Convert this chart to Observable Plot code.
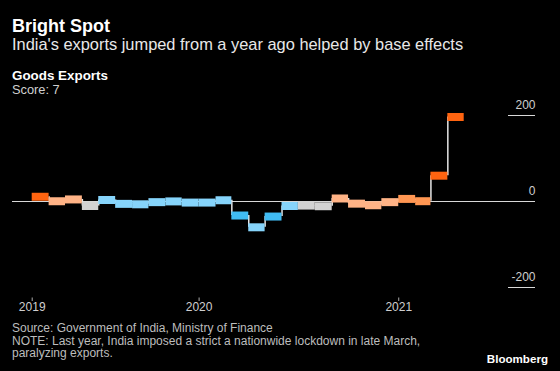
<!DOCTYPE html>
<html>
<head>
<meta charset="utf-8">
<script src="https://cdn.jsdelivr.net/npm/d3@7"></script>
<script src="https://cdn.jsdelivr.net/npm/@observablehq/plot@0.6"></script>
<style>
  html, body { margin: 0; padding: 0; background: #000; }
  body { width: 560px; height: 371px; overflow: hidden; position: relative; font-family: "Liberation Sans", Arial, sans-serif; color: #fff; }
  .t { position: absolute; left: 12px; white-space: nowrap; line-height: 1; }
  #chart { position: absolute; top: 100px; left: 0; }
</style>
</head>
<body>
<div class="t" style="top:17px;font-size:18px;font-weight:bold;color:#fff">Bright Spot</div>
<div class="t" style="top:36px;font-size:16.4px;color:#e8e8e8">India's exports jumped from a year ago helped by base effects</div>
<div class="t" style="top:69px;font-size:13.4px;line-height:13px;font-weight:bold;color:#fff">Goods Exports</div>
<div class="t" style="top:84px;font-size:12.8px;line-height:12.5px;color:#d0d0d0">Score: 7</div>
<div class="t" style="top:322px;font-size:12px;line-height:12.7px;color:#bdbdbd">Source: Government of India, Ministry of Finance<br>NOTE: Last year, India imposed a strict a nationwide lockdown in late March,<br>paralyzing exports.</div>
<div class="t" style="top:353px;left:auto;right:12px;font-size:11.6px;font-weight:bold;color:#fff">Bloomberg</div>
<div id="chart"></div>
<script>
// Monthly goods exports, % change from a year earlier
const months = ["2019-03","2019-04","2019-05","2019-06","2019-07","2019-08","2019-09","2019-10","2019-11","2019-12",
                "2020-01","2020-02","2020-03","2020-04","2020-05","2020-06","2020-07","2020-08","2020-09","2020-10",
                "2020-11","2020-12","2021-01","2021-02","2021-03","2021-04"];
const values = [11, 0.6, 4.8, -10.5, 3.5, -5.5, -6.5, -1.5, 0.2, -2.5,
                -2.5, 2.9, -32.6, -60, -35, -10.5, -9.5, -11, 7, -5,
                -8.7, -1.5, 6, 0.7, 60, 196.5];
// score band of each month (drives the colour)
const bands = ["hi","mid","mid","neu","lo","lo","lo","lo","lo","lo",
               "lo","lo","vlo","lo","vlo","lo","neu","neu","mid","mid",
               "mid","mid","mh","mh","hi","hi"];
const bandNames = ["hi","mh","mid","neu","lo","vlo"];
const bandColors = ["#ff6410","#ff9652","#ffb386","#d2d2d2","#86d4fb","#40bcf4"];
const yTicks = [200, 0, -200];
const xTickDates = ["2019-03-01","2020-01-01","2021-01-01"];
const xTickLabels = ["2019","2020","2021"];
const xDomain = ["2019-03-01","2021-05-01"];

const parse = d3.utcParse("%Y-%m");
const data = months.map((m, i) => {
  const start = parse(m);
  return {start, end: d3.utcMonth.offset(start, 1), value: values[i], band: bands[i]};
});
const steps = data.slice(1).map((d, i) => ({x: d.start, y1: data[i].value, y2: d.value}));
const tickDates = xTickDates.map(d => new Date(d + "T00:00:00Z"));

const W = 560, H = 215, mL = 12, mR = 25;
const chart = Plot.plot({
  width: W,
  height: H,
  marginLeft: mL,
  marginRight: mR,
  marginTop: 0,
  marginBottom: 17.5,
  style: {background: "transparent", fontFamily: "'Liberation Sans', Arial, sans-serif", overflow: "visible"},
  x: {type: "utc", domain: xDomain.map(d => new Date(d + "T00:00:00Z")), range: [31.7, 463.7], label: null},
  y: {domain: [-200, 200], range: [187, 15], label: null, axis: null},
  color: {type: "ordinal", domain: bandNames, range: bandColors},
  marks: [
    Plot.ruleY([0], {stroke: "#d8d8d8", strokeWidth: 1}),
    Plot.ruleY(yTicks.filter(d => d !== 0), {stroke: "#d8d8d8", strokeWidth: 1, insetLeft: (W - mL - mR) - 27}),
    Plot.text(yTicks, {y: d => d, text: d => String(d), frameAnchor: "right", textAnchor: "end", lineAnchor: "bottom", dy: -7, fill: "#cfcfcf", fontSize: 12}),
    Plot.ruleX(steps, {x: "x", y1: "y1", y2: "y2", stroke: "#e6e6e6", strokeWidth: 1.5}),
    Plot.ruleY(data, {x1: "start", x2: "end", y: "value", stroke: "band", strokeWidth: 8}),
    Plot.axisX({ticks: tickDates, tickFormat: (d, i) => xTickLabels[i], tickSize: 3.5, tickPadding: 1, stroke: "#aaa", fill: "#cfcfcf", fontSize: 12, label: null})
  ]
});
document.getElementById("chart").appendChild(chart);
</script>
</body>
</html>
